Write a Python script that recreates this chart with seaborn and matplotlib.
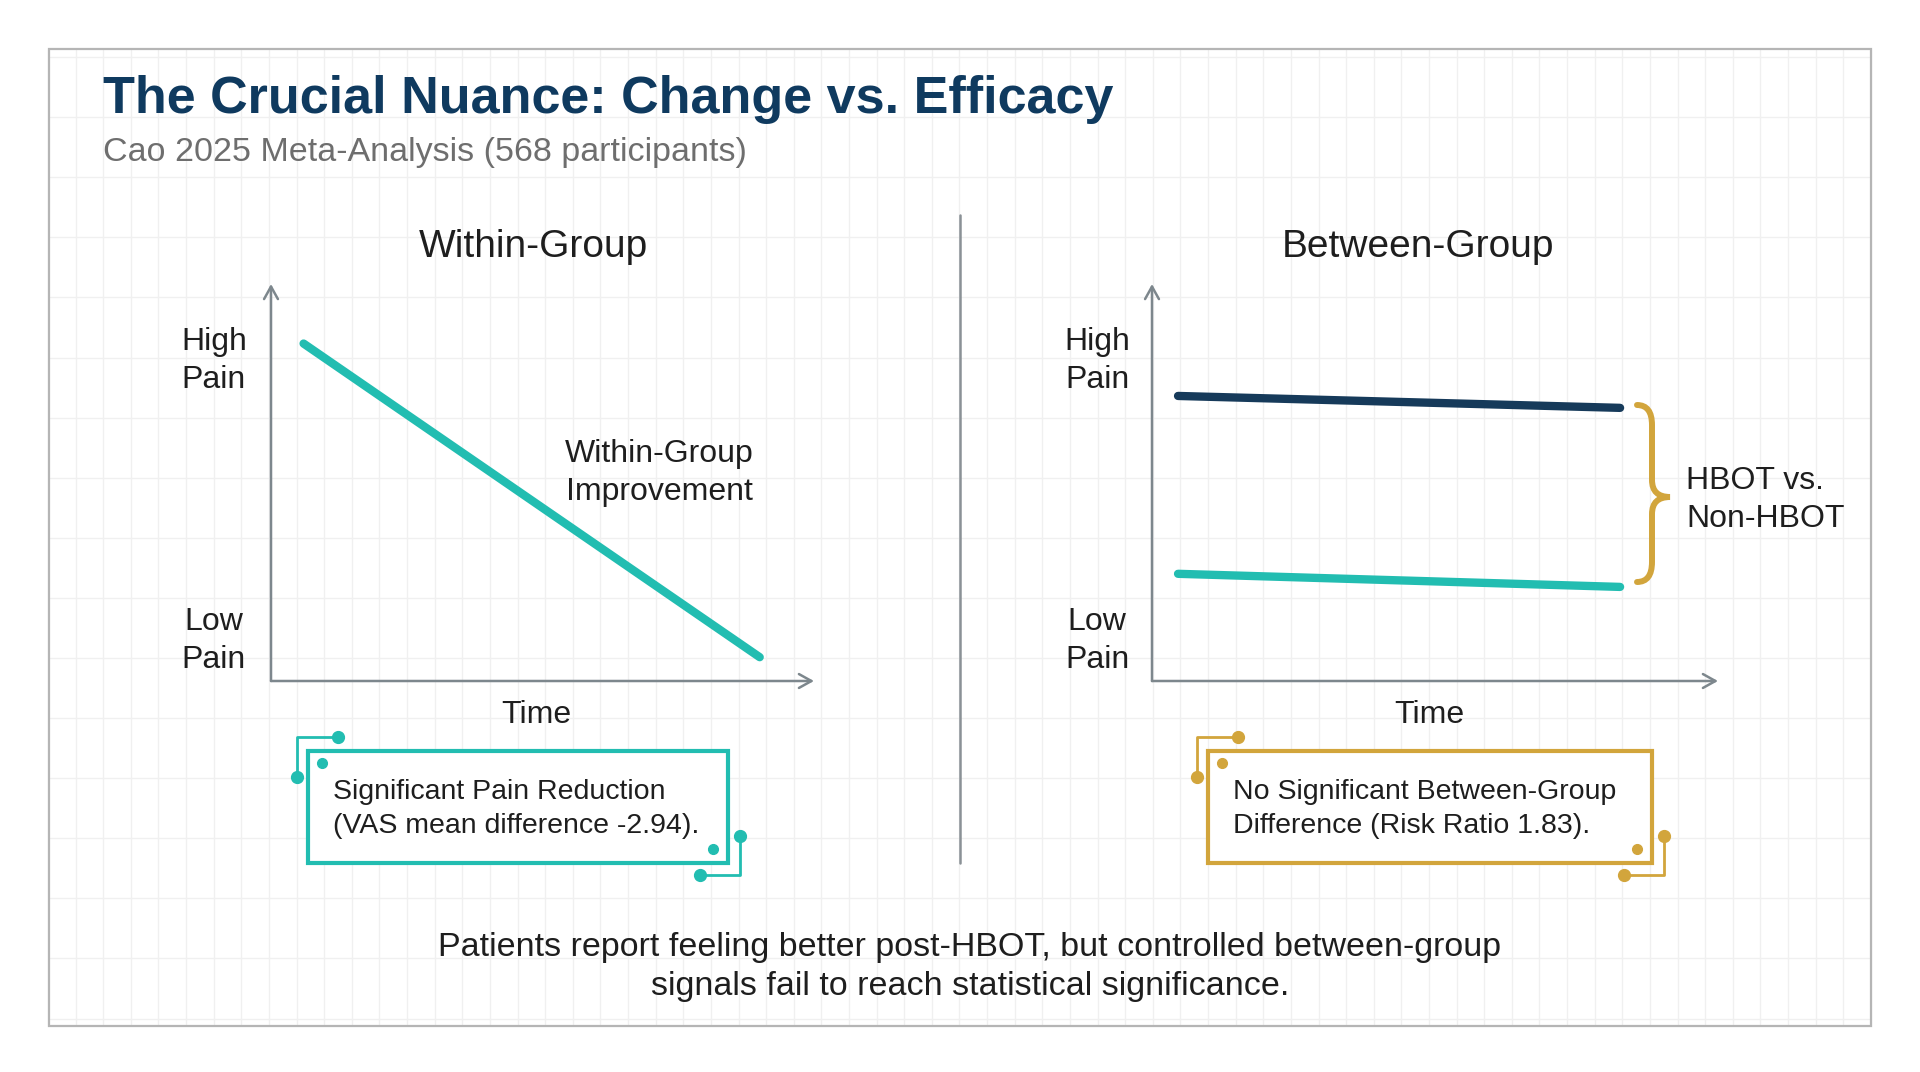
import numpy as np
import pandas as pd
import matplotlib.pyplot as plt
from matplotlib.path import Path
from matplotlib.patches import PathPatch, Rectangle
import seaborn as sns

# data (0 = low, 1 = high)
time_within = [0.06, 0.90]
pain_within = [0.85, 0.06]

time_between = [0.046, 0.827, 0.046, 0.827]
pain_between = [0.718, 0.688, 0.270, 0.237]
group_between = ["Non-HBOT", "Non-HBOT", "HBOT", "HBOT"]

title = "The Crucial Nuance: Change vs. Efficacy"
subtitle = "Cao 2025 Meta-Analysis (568 participants)"
panel_titles = ["Within-Group", "Between-Group"]
box_texts = ["Significant Pain Reduction\n(VAS mean difference -2.94).",
             "No Significant Between-Group\nDifference (Risk Ratio 1.83)."]
footer = ("Patients report feeling better post-HBOT, but controlled between-group\n"
          "signals fail to reach statistical significance.")

TEAL = "#22bdb1"
NAVY = "#163a5a"
GOLD = "#d2a53c"
AXIS = "#7d878d"
TEXT = "#1e1e1e"

sns.set_style("white")
plt.rcParams['font.family'] = ['Liberation Sans', 'DejaVu Sans']

W, H = 1920, 1072
fig = plt.figure(figsize=(19.2, 10.72), dpi=100)

# background canvas in pixel coords
bg = fig.add_axes([0, 0, 1, 1], zorder=0)
bg.set_xlim(0, W)
bg.set_ylim(H, 0)
bg.axis("off")

# grid paper inside the frame
gx = np.arange(48, 1872, 27.62)
gy = np.arange(57, 1026, 60.1)
bg.vlines(gx, 49, 1026, color="#f0f0f0", lw=1, zorder=0)
bg.hlines(gy, 49, 1871, color="#f0f0f0", lw=1, zorder=0)
bg.add_patch(Rectangle((49, 49), 1822, 977, fill=False, ec="#b5b5b5", lw=1.6, zorder=1))

bg.text(103, 100, title, fontsize=37.5, fontweight="bold", color="#0f3a5f", va="center", ha="left")
bg.text(103, 153, subtitle, fontsize=24.5, color="#6e6e6e", va="center", ha="left")

# divider
bg.plot([960, 960], [215, 863], color="#8a9196", lw=1.8, zorder=2)


def panel_axes(x0, x1, y_top, y_bot):
    ax = fig.add_axes([x0 / W, (H - y_bot) / H, (x1 - x0) / W, (y_bot - y_top) / H], zorder=3)
    ax.set_xlim(0, 1)
    ax.set_ylim(0, 1)
    ax.patch.set_alpha(0)
    for s in ax.spines.values():
        s.set_visible(False)
    arrow = dict(arrowstyle="->,head_length=0.9,head_width=0.5", color=AXIS, lw=1.8, shrinkA=0, shrinkB=0)
    ax.annotate("", xy=(1, 0), xytext=(0, 0), xycoords="axes fraction", arrowprops=arrow, annotation_clip=False)
    ax.annotate("", xy=(0, 1), xytext=(0, 0), xycoords="axes fraction", arrowprops=arrow, annotation_clip=False)
    return ax


def clean(ax):
    ax.set_xticks([])
    ax.set_yticks([])
    ax.set_xlabel("")
    ax.set_ylabel("")


# left panel
ax1 = panel_axes(271, 814, 284, 681)
sns.lineplot(x=time_within, y=pain_within, ax=ax1, color=TEAL, lw=6, solid_capstyle="round")
clean(ax1)

# right panel
ax2 = panel_axes(1152, 1718, 284, 681)
df = pd.DataFrame({"time": time_between, "pain": pain_between, "group": group_between})
sns.lineplot(data=df, x="time", y="pain", hue="group", palette={"Non-HBOT": NAVY, "HBOT": TEAL},
             ax=ax2, lw=6, solid_capstyle="round", legend=False)
clean(ax2)

# panel labels
for cx, t, ylx in [(533, panel_titles[0], 214), (1418, panel_titles[1], 1097)]:
    bg.text(cx, 247, t, fontsize=28, color=TEXT, ha="center", va="center")
    bg.text(ylx, 361, "High\nPain", fontsize=23, color=TEXT, ha="center", va="center", linespacing=1.33)
    bg.text(ylx, 641, "Low\nPain", fontsize=23, color=TEXT, ha="center", va="center", linespacing=1.33)
bg.text(536, 715, "Time", fontsize=23, color=TEXT, ha="center", va="center")
bg.text(1429, 715, "Time", fontsize=23, color=TEXT, ha="center", va="center")
bg.text(659, 473, "Within-Group\nImprovement", fontsize=23, color=TEXT, ha="center", va="center",
        linespacing=1.33)

# brace
bx, by0, by1, bm = 1637, 405, 582, 497
verts = [(bx, by0), (bx + 15, by0), (bx + 15, by0 + 20),
         (bx + 15, bm - 17),
         (bx + 15, bm), (bx + 33, bm),
         (bx + 15, bm), (bx + 15, bm + 17),
         (bx + 15, by1 - 20),
         (bx + 15, by1), (bx, by1)]
codes = [Path.MOVETO, Path.CURVE3, Path.CURVE3, Path.LINETO, Path.CURVE3, Path.CURVE3,
         Path.CURVE3, Path.CURVE3, Path.LINETO, Path.CURVE3, Path.CURVE3]
bg.add_patch(PathPatch(Path(verts, codes), fill=False, ec=GOLD, lw=4.3, capstyle="round", zorder=4))
bg.text(1686, 500, "HBOT vs.\nNon-HBOT", fontsize=23, color=TEXT, ha="left", va="center", linespacing=1.33)


# callout boxes
def callout(x0, x1, y0, y1, color, text):
    bg.add_patch(Rectangle((x0, y0), x1 - x0, y1 - y0, fc="white", ec=color, lw=3, zorder=3))
    bg.plot([x0 - 11, x0 - 11, x0 + 30], [y0 + 26, y0 - 14, y0 - 14], color=color, lw=2, zorder=4)
    bg.plot([x0 - 11, x0 + 30], [y0 + 26, y0 - 14], "o", color=color, ms=8.5, zorder=5)
    bg.plot([x0 + 14], [y0 + 12], "o", color=color, ms=7, zorder=5)
    bg.plot([x1 + 12, x1 + 12, x1 - 28], [y1 - 27, y1 + 12, y1 + 12], color=color, lw=2, zorder=4)
    bg.plot([x1 + 12, x1 - 28], [y1 - 27, y1 + 12], "o", color=color, ms=8.5, zorder=5)
    bg.plot([x1 - 15], [y1 - 14], "o", color=color, ms=7, zorder=5)
    bg.text(x0 + 25, (y0 + y1) / 2 + 2, text, fontsize=20.5, color=TEXT, ha="left", va="center",
            linespacing=1.36, zorder=6)


callout(308, 728, 751, 863, TEAL, box_texts[0])
callout(1208, 1652, 751, 863, GOLD, box_texts[1])

bg.text(970, 967, footer, fontsize=24.5, color=TEXT, ha="center", va="center", linespacing=1.3)

fig.savefig("out.png", dpi=100)
